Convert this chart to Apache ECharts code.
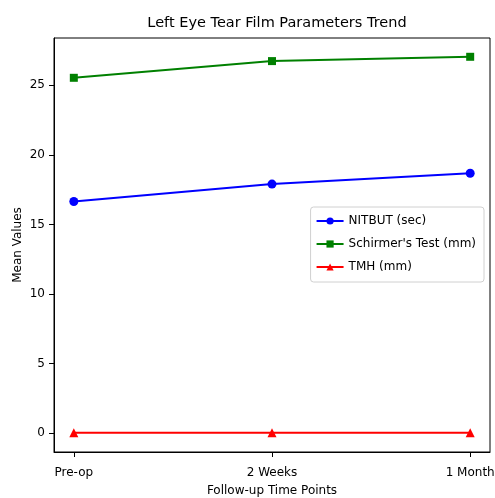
<!DOCTYPE html>
<html><head><meta charset="utf-8">
<script src="https://cdn.jsdelivr.net/npm/echarts@6/dist/echarts.min.js"></script>
<style>html,body{margin:0;padding:0;background:#fff}#c{width:495px;height:498px}</style>
</head><body><div id="c"></div>
<script>
const categories = ["Pre-op", "2 Weeks", "1 Month"];
const nitbut = [16.65, 17.9, 18.68];
const schirmer = [25.54, 26.74, 27.05];
const tmh = [0.04, 0.04, 0.04];
const yTicks = [0, 5, 10, 15, 20, 25];

const font = "DejaVu Sans";
const chart = echarts.init(document.getElementById('c'), null, {renderer: 'canvas'});
const toPairs = arr => arr.map((v, i) => [i, v]);
chart.setOption({
  backgroundColor: '#fff',
  animation: false,
  title: {
    text: 'Left Eye Tear Film Parameters Trend',
    left: 272, top: 11, textAlign: 'center',
    textStyle: {fontFamily: font, fontSize: 14.5, fontWeight: 'normal', color: '#000'}
  },
  graphic: [{
    type: 'text', x: 18, y: 245, rotation: Math.PI / 2,
    style: {text: 'Mean Values', fontFamily: font, fontSize: 12, fill: '#000', align: 'center', verticalAlign: 'middle'}
  }],
  grid: {left: 54, right: 5, top: 38, bottom: 46, outerBoundsMode: 'none', containLabel: false,
    show: true, borderColor: '#000', borderWidth: 1, backgroundColor: 'transparent'},
  legend: {
    right: 11, top: 207, orient: 'vertical',
    itemWidth: 27, itemHeight: 9, itemGap: 11,
    padding: [8, 8, 9, 5],
    borderColor: '#d0d0d0', borderWidth: 1, borderRadius: 3,
    textStyle: {fontFamily: font, fontSize: 12, color: '#000'},
    data: ["NITBUT (sec)", "Schirmer's Test (mm)", "TMH (mm)"]
  },
  xAxis: {
    type: 'value', min: -0.1, max: 2.1,
    name: 'Follow-up Time Points', nameLocation: 'middle', nameGap: 33,
    nameTextStyle: {fontFamily: font, fontSize: 12, color: '#000'},
    axisLine: {show: true, onZero: false, lineStyle: {color: '#000', width: 1}},
    axisTick: {show: true, length: 5, lineStyle: {color: '#000'}, customValues: [0, 1, 2]},
    axisLabel: {fontFamily: font, fontSize: 12, color: '#000', margin: 15,
      customValues: [0, 1, 2], formatter: v => categories[Math.round(v)]},
    splitLine: {show: false}
  },
  yAxis: {
    type: 'value', min: -1.35, max: 28.4,
    axisLine: {show: true, onZero: false, lineStyle: {color: '#000', width: 1}},
    axisTick: {show: true, length: 5, lineStyle: {color: '#000'}, customValues: yTicks},
    axisLabel: {fontFamily: font, fontSize: 12, color: '#000', margin: 9, customValues: yTicks},
    splitLine: {show: false}
  },
  series: [
    {name: "NITBUT (sec)", type: 'line', data: toPairs(nitbut), symbol: 'circle', symbolSize: 9,
      lineStyle: {color: '#0000ff', width: 2}, itemStyle: {color: '#0000ff'}},
    {name: "Schirmer's Test (mm)", type: 'line', data: toPairs(schirmer), symbol: 'rect', symbolSize: 8,
      lineStyle: {color: '#008000', width: 2}, itemStyle: {color: '#008000'}},
    {name: "TMH (mm)", type: 'line', data: toPairs(tmh), symbol: 'triangle', symbolSize: 9,
      lineStyle: {color: '#ff0000', width: 2}, itemStyle: {color: '#ff0000'}}
  ]
});
</script></body></html>
